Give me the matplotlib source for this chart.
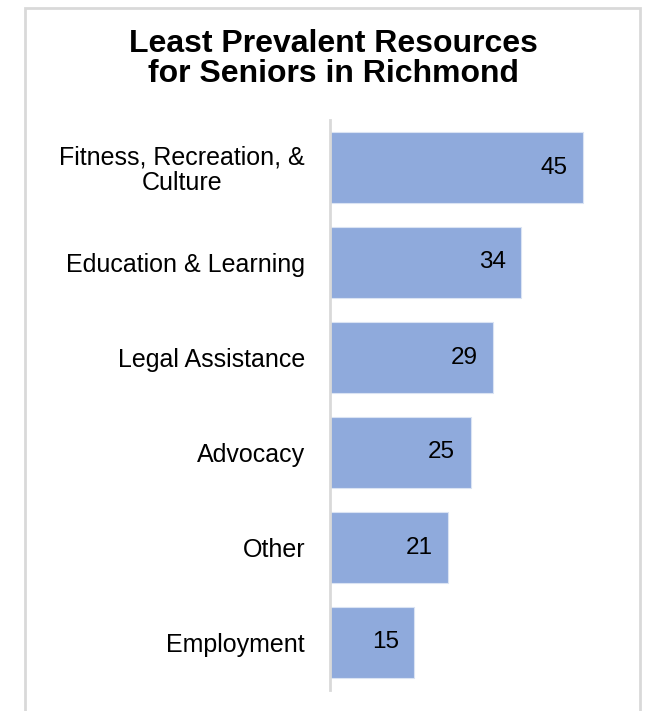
import matplotlib.pyplot as plt
from matplotlib.patches import Rectangle

# Data
categories = ['Fitness, Recreation, &\nCulture', 'Education & Learning', 'Legal Assistance',
              'Advocacy', 'Other', 'Employment']
values = [45, 34, 29, 25, 21, 15]

plt.rcParams['font.family'] = ['Liberation Sans', 'DejaVu Sans']

fig = plt.figure(figsize=(6.46, 7.11), dpi=100)
W, H = 646, 711

# Light grey chart border (open at the bottom)
fig.add_artist(Rectangle((25 / W, -0.05), 615 / W, 1.05 - 8 / H,
                         transform=fig.transFigure, fill=False,
                         edgecolor='#D9D9D9', linewidth=2))

# Axes placed in pixels: x 330..611, y 120..690
ax = fig.add_axes([330 / W, (H - 690) / H, 281 / W, 570 / H])
y = list(range(len(categories)))
ax.barh(y, values, height=0.75, color='#8FAADC', edgecolor='#DAE3F3', linewidth=0.8)
ax.set_ylim(len(categories) - 0.5, -0.5)
ax.set_xlim(0, 50)

for yi, v in zip(y, values):
    ax.annotate(str(v), xy=(v, yi), xytext=(-11, 0), textcoords='offset points',
                ha='right', va='center', fontsize=17.5, color='black')

ax.set_yticks(y)
ax.set_yticklabels(categories, fontsize=18, linespacing=1.05, multialignment='center')
ax.tick_params(axis='y', length=0, pad=18)
ax.set_xticks([])
for side in ['top', 'right', 'bottom']:
    ax.spines[side].set_visible(False)
ax.spines['left'].set_color('#D9D9D9')
ax.spines['left'].set_linewidth(2)

fig.text(333 / W, 1 - 59 / H, 'Least Prevalent Resources\nfor Seniors in Richmond',
         ha='center', va='center', fontsize=23, fontweight='bold', linespacing=1.0)

plt.savefig('out.png', dpi=100)
